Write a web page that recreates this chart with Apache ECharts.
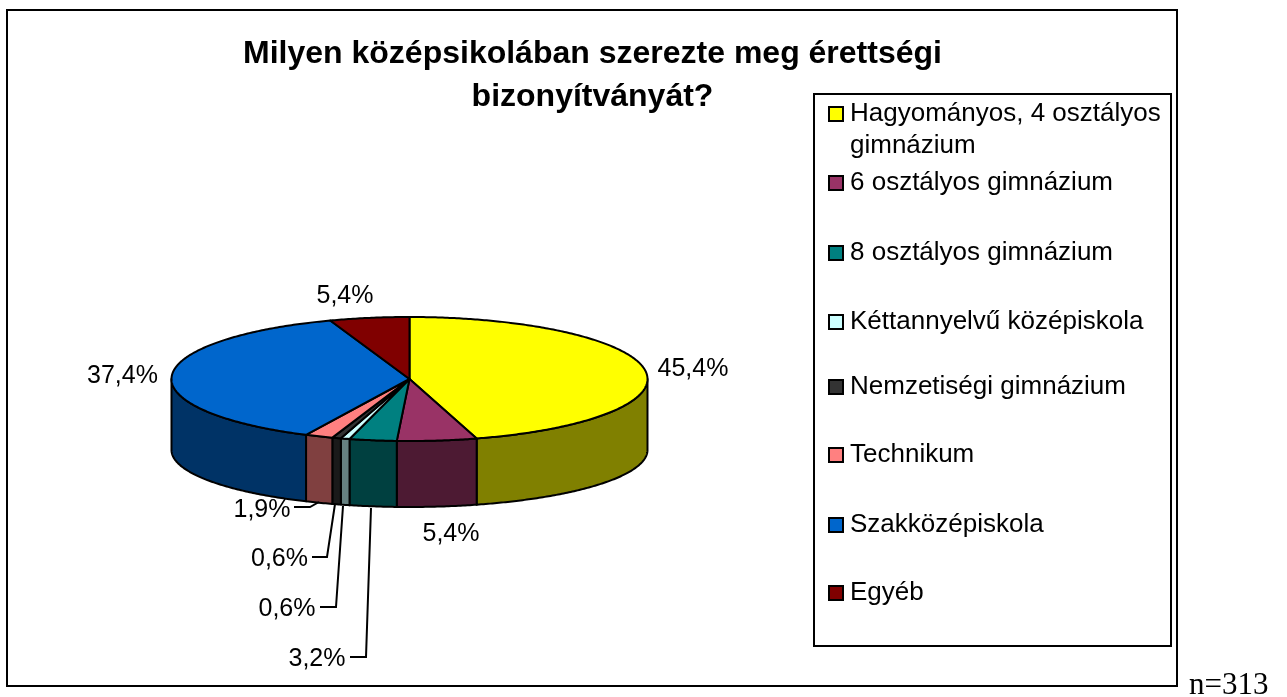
<!DOCTYPE html>
<html><head><meta charset="utf-8">
<style>html,body{margin:0;padding:0;background:#fff}#c{width:1287px;height:697px}</style>
<script src="https://cdn.jsdelivr.net/npm/echarts@6/dist/echarts.min.js"></script>
</head><body><div id="c"></div>
<script>
const categories = ['Hagyományos, 4 osztályos\ngimnázium','6 osztályos gimnázium','8 osztályos gimnázium','Kéttannyelvű középiskola','Nemzetiségi gimnázium','Technikum','Szakközépiskola','Egyéb'];
const percents = [45.4,5.4,3.2,0.6,0.6,1.9,37.4,5.4];
const topColors = ['#FFFF00','#993366','#008080','#CCFFFF','#333333','#FF8080','#0066CC','#800000'];
const sideColors = ['#808000','#4D1A33','#004040','#668080','#1A1A1A','#804040','#003366','#400000'];
const titleText = 'Milyen középsikolában szerezte meg érettségi\nbizonyítványát?';
const noteText = 'n=313';

// layout only
const pie = {cx:409.5, cy:379, rx:238, ry:62, bottomCy:450, bottomRy:57};
const labelPos = [[693,369],[451,534],[317,659],[287,609],[279.5,559],[262,510],[122.5,376],[345,296]];
const leaders = [null,null,
  [[350,657],[366,657],[371,508]],
  [[320,607],[336,607],[343,506]],
  [[312,557],[327,557],[335,504]],
  [[294,507],[310,507],[319,502]],
  null,null];
const legendRows = [114,183,253,322,387,455,525,593];

const total = percents.reduce((a,b)=>a+b,0);
const starts = []; percents.reduce((acc,v,i)=>{starts[i]=acc; return acc+v;},0);
const toAng = p => p/total*2*Math.PI;
const rim = a=>[pie.cx+pie.rx*Math.sin(a), pie.cy-pie.ry*Math.cos(a)];
const rimBottom = a=>[pie.cx+pie.rx*Math.sin(a), pie.bottomCy-pie.bottomRy*Math.cos(a)];
function arc(a0,a1,fn=rim){
  const n=Math.max(2,Math.ceil((a1-a0)/0.01)), pts=[];
  for(let i=0;i<=n;i++) pts.push(fn(a0+(a1-a0)*i/n));
  return pts;
}
const lineStyle = {stroke:'#000',lineWidth:2,lineJoin:'round'};

function renderSlice(idx){
  return function(params,api){
    const v = api.value(0);
    const a0 = toAng(starts[idx]), a1 = a0+toAng(v);
    const children = [];
    const s0 = Math.max(a0,Math.PI/2), s1 = Math.min(a1,Math.PI*3/2);
    if(s1>s0){
      children.push({type:'polygon',z2:1,shape:{points:arc(s0,s1).concat(arc(s0,s1,rimBottom).reverse())},
        style:Object.assign({fill:sideColors[idx]},lineStyle)});
    }
    children.push({type:'polygon',z2:2,shape:{points:[[pie.cx,pie.cy]].concat(arc(a0,a1))},
      style:Object.assign({fill:topColors[idx]},lineStyle)});
    if(leaders[idx]) children.push({type:'polyline',z2:3,shape:{points:leaders[idx]},
      style:{stroke:'#000',lineWidth:2,fill:null}});
    children.push({type:'text',z2:4,x:labelPos[idx][0],y:labelPos[idx][1],
      style:{text:v.toFixed(1).replace('.',',')+'%',font:'25px "Liberation Sans",Arial,sans-serif',fill:'#000',align:'center',verticalAlign:'middle'}});
    return {type:'group',children};
  };
}

const series = categories.map((name,i)=>({
  type:'custom',name,coordinateSystem:'none',silent:true,animation:false,
  itemStyle:{color:topColors[i]},
  data:[[percents[i]]],renderItem:renderSlice(i),
  z:i+2
}));

const legend = categories.map((name,i)=>{
  const two = i===0, lh=32;
  return {
    show:true,orient:'vertical',left:828,top:two?legendRows[i]-48:legendRows[i]-lh/2,padding:0,
    data:[name],selectedMode:false,icon:'rect',itemWidth:14,itemHeight:14,
    itemStyle:{borderColor:'#000',borderWidth:2},
    formatter:n=>{
      const lines=n.split('\n');
      return (two?'{a|}\n':'')+lines.map(l=>'{a|'+l+'}').join('\n');
    },
    textStyle:{fontFamily:'"Liberation Sans",Arial,sans-serif',fontSize:26,color:'#000',lineHeight:lh,
      rich:{a:{fontFamily:'"Liberation Sans",Arial,sans-serif',fontSize:26,color:'#000',lineHeight:lh,height:lh,padding:[0,0,0,2]}}}
  };
});

const chart = echarts.init(document.getElementById('c'),null,{renderer:'canvas'});
chart.setOption({
  animation:false,backgroundColor:'#fff',
  title:[
    {text:titleText,left:592.5,top:33,textAlign:'center',padding:0,
      textStyle:{fontFamily:'"Liberation Sans",Arial,sans-serif',fontWeight:'bold',fontSize:32,lineHeight:43,color:'#000'}},
    {text:noteText,left:1189,top:668,padding:0,
      textStyle:{fontFamily:'"Liberation Serif","Times New Roman",serif',fontWeight:'normal',fontSize:31,lineHeight:36,color:'#000'}}
  ],
  legend,
  series,
  graphic:[
    {type:'rect',silent:true,z:0,shape:{x:7,y:10,width:1170,height:676},style:{fill:'#fff',stroke:'#000',lineWidth:2}},
    {type:'rect',silent:true,z:1,shape:{x:814,y:94,width:357,height:552},style:{fill:'#fff',stroke:'#000',lineWidth:2}}
  ]
});
</script></body></html>
